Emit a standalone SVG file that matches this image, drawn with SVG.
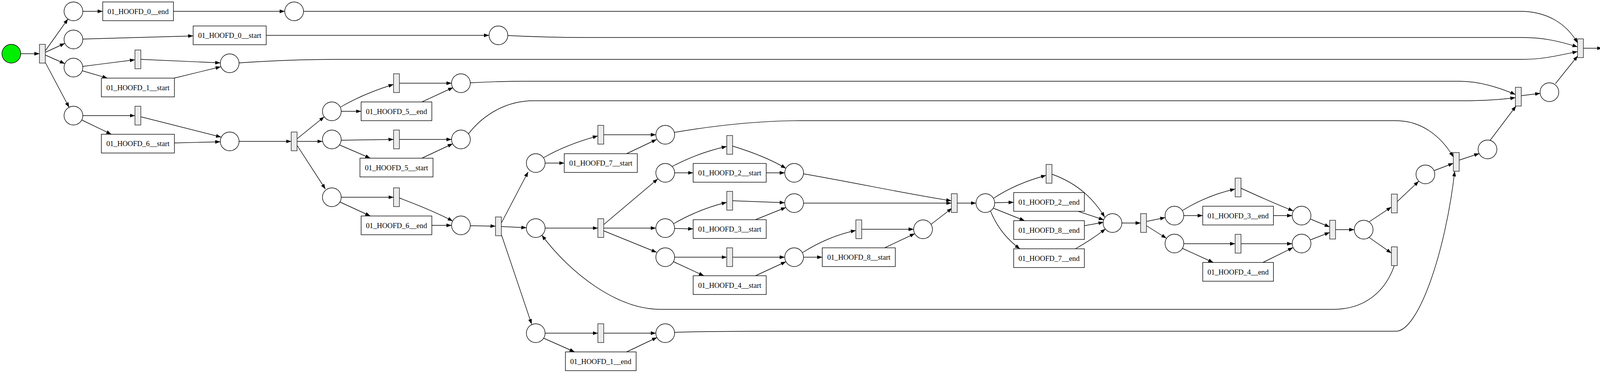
<svg xmlns="http://www.w3.org/2000/svg" width="4155" height="955" viewBox="0 0 4155 955">
<defs>
<style>
.place{fill:#ffffff;stroke:#000;stroke-width:1.4}
.trans{fill:#ececec;stroke:#222;stroke-width:1.4}
.box{fill:#ffffff;stroke:#000;stroke-width:1.4}
.lbl{font-family:"Liberation Serif","Times New Roman",serif;font-size:18.67px;fill:#000;text-anchor:middle}
.e{fill:none;stroke:#000;stroke-width:1.4;marker-end:url(#ah)}
</style>
<marker id="ah" markerWidth="14" markerHeight="10" refX="13" refY="4.75" orient="auto" markerUnits="userSpaceOnUse">
<path d="M0,0 L13,4.75 L0,9.5 z" fill="#000"/>
</marker>
</defs>
<rect width="4155" height="955" fill="#fff"/>
<g id="edges">
<path class="e" d="M53,137.5 L101,137.5"/>
<path class="e" d="M116,130 L174,48.5"/>
<path class="e" d="M116,134 L166,111"/>
<path class="e" d="M116,141 L166,163"/>
<path class="e" d="M116,160 L177,275"/>
<path class="e" d="M212,29 L263,29"/>
<path class="e" d="M444,29 L729,29"/>
<path class="e" d="M777,29 L3891,29 C3960,29 4010,60 4038.5,110"/>
<path class="e" d="M212,100 L494.5,92"/>
<path class="e" d="M681.5,90.5 L1252,90.5"/>
<path class="e" d="M1300,91 C1380,95 1420,96 1500,96 L3897,96 C3950,96 3990,105 4038.5,120"/>
<path class="e" d="M212,170 L345.5,153"/>
<path class="e" d="M210,181 L275,200"/>
<path class="e" d="M360.5,152 L564,161"/>
<path class="e" d="M446,200 L565,171"/>
<path class="e" d="M612,161 C700,155 780,152 860,152 L3897,152 C3950,152 3990,142 4038.5,132"/>
<path class="e" d="M3982,214 L4039,143"/>
<path class="e" d="M212,296 L345.5,296"/>
<path class="e" d="M209,307 L285,343.7"/>
<path class="e" d="M360.5,299 L566,351"/>
<path class="e" d="M446.5,366 L564,363"/>
<path class="e" d="M612,362 L745.5,362"/>
<path class="e" d="M761,355 L830,299"/>
<path class="e" d="M760.5,362 L825.5,362"/>
<path class="e" d="M761,373 L833,484"/>
<path class="e" d="M872,274 Q930,240 1007.5,216"/>
<path class="e" d="M873.5,285 L924.5,285"/>
<path class="e" d="M1022.5,213 L1156,213"/>
<path class="e" d="M1080,261 L1160,224"/>
<path class="e" d="M1204,212 C1260,209 1300,208 1350,208 L3736,208 C3790,208 3840,225 3879.5,242"/>
<path class="e" d="M873.5,359 L1007.5,357"/>
<path class="e" d="M869,371 L948,405"/>
<path class="e" d="M1022.5,357 L1156,357"/>
<path class="e" d="M1080,405 L1159,368"/>
<path class="e" d="M1199,343 C1240,290 1300,258 1365,258 L3740,258 C3800,258 3850,254 3879.5,250"/>
<path class="e" d="M873.5,505 L1007.5,505"/>
<path class="e" d="M870,517 L948,553"/>
<path class="e" d="M1022.5,507 Q1110,540 1159,566"/>
<path class="e" d="M1105.5,577 L1156,577"/>
<path class="e" d="M1204,578 L1268.5,579"/>
<path class="e" d="M1284,570 L1352,440"/>
<path class="e" d="M1283.5,580 L1347.5,583"/>
<path class="e" d="M1284,602 L1361,830"/>
<path class="e" d="M1391,404 Q1450,370 1530.5,348"/>
<path class="e" d="M1395.5,417.5 L1444.5,417.5"/>
<path class="e" d="M1545.5,345 L1679,345"/>
<path class="e" d="M1604,393.5 L1681,357"/>
<path class="e" d="M1726,339 C1850,318 1950,309 2050,309 L3574,309 C3640,309 3690,350 3720.5,402"/>
<path class="e" d="M1395.5,584 L1530.5,584"/>
<path class="e" d="M1545.5,575 L1684,458"/>
<path class="e" d="M1545.5,584 L1679,584"/>
<path class="e" d="M1545.5,591 L1681,646"/>
<path class="e" d="M1724,573 Q1790,535 1860.5,518"/>
<path class="e" d="M1727,585 L1774.5,586"/>
<path class="e" d="M1875.5,514 L2009,519"/>
<path class="e" d="M1934,562.5 L2012,531"/>
<path class="e" d="M1727,658.5 L1860.5,658.5"/>
<path class="e" d="M1724,670 L1802,706"/>
<path class="e" d="M1875.5,658.5 L2009,658.5"/>
<path class="e" d="M1934,706 L2012,670"/>
<path class="e" d="M1395.5,853 L1530.5,853"/>
<path class="e" d="M1392,866 L1471,901"/>
<path class="e" d="M1545.5,853 L1679,853"/>
<path class="e" d="M1604,901 L1682,864"/>
<path class="e" d="M1727,851 C1800,848 1900,848 2000,848 L3574,848 C3630,848 3700,650 3724,438.5"/>
<path class="e" d="M1721,426 Q1790,390 1860.5,375"/>
<path class="e" d="M1727,442.5 L1774.5,442.5"/>
<path class="e" d="M1875.5,374 Q1960,400 2012,431"/>
<path class="e" d="M1961.5,442.5 L2009,442.5"/>
<path class="e" d="M2057,445 C2200,470 2340,500 2435.5,514"/>
<path class="e" d="M2057,520 L2435.5,520"/>
<path class="e" d="M2054,647 Q2120,605 2191,590"/>
<path class="e" d="M2057,658.5 L2105,658.5"/>
<path class="e" d="M2206,587 L2339,587"/>
<path class="e" d="M2265,634.5 L2342,598"/>
<path class="e" d="M2384,574 L2437,533"/>
<path class="e" d="M2450.5,520 L2498.5,520"/>
<path class="e" d="M2543,508 Q2600,470 2678,449"/>
<path class="e" d="M2546.5,519 L2595,518"/>
<path class="e" d="M2543,533 L2623,565"/>
<path class="e" d="M2536,541 Q2560,600 2611,637"/>
<path class="e" d="M2693,446 C2760,470 2800,510 2828,556"/>
<path class="e" d="M2760,541 L2826,563"/>
<path class="e" d="M2776,578 L2825,569"/>
<path class="e" d="M2753,637 Q2800,610 2830,586"/>
<path class="e" d="M2872,571 L2920,571"/>
<path class="e" d="M2935,567 L2983,557"/>
<path class="e" d="M2935,578 L2986,610"/>
<path class="e" d="M3027,539 Q3090,500 3162,484"/>
<path class="e" d="M3030.5,552 L3079,552"/>
<path class="e" d="M3177,482 Q3260,520 3311,540"/>
<path class="e" d="M3260,552 L3308,552"/>
<path class="e" d="M3030.5,624 L3162,624"/>
<path class="e" d="M3027,636 L3106,672"/>
<path class="e" d="M3177,624 L3308,624"/>
<path class="e" d="M3233,672 L3310,634"/>
<path class="e" d="M3355,561 L3404,581"/>
<path class="e" d="M3355,614 L3404,595"/>
<path class="e" d="M3419,588 L3467,588"/>
<path class="e" d="M3505,568 L3562,530"/>
<path class="e" d="M3505,608 L3562,648"/>
<path class="e" d="M3577,516 L3632,464"/>
<path class="e" d="M3569.5,680 C3545,750 3490,792 3414,792 L1690,792 C1580,792 1460,700 1387,602"/>
<path class="e" d="M3671,437 L3720.5,418"/>
<path class="e" d="M3735.5,410 L3787,393"/>
<path class="e" d="M3815,359 L3881,271.5"/>
<path class="e" d="M3894.5,245 L3943,239"/>
<path class="e" d="M4053.5,123.5 L4101.5,123.5"/>
</g>
<g id="source"><circle cx="29" cy="137.5" r="24" fill="#00ee00" stroke="#000" stroke-width="1.4"/></g>
<g id="sink"><circle cx="4125.5" cy="123.5" r="24" fill="#ff0000" stroke="#000" stroke-width="1.4"/></g>
<g id="p_a"><circle class="place" cx="188" cy="29" r="24"/></g>
<g id="p_b"><circle class="place" cx="188" cy="101" r="24"/></g>
<g id="p_c"><circle class="place" cx="188" cy="173" r="24"/></g>
<g id="p_d"><circle class="place" cx="188" cy="296" r="24"/></g>
<g id="p_e"><circle class="place" cx="753" cy="29" r="24"/></g>
<g id="p_f"><circle class="place" cx="1276" cy="90.5" r="24"/></g>
<g id="p_g"><circle class="place" cx="588" cy="162" r="24"/></g>
<g id="p_h"><circle class="place" cx="588" cy="362" r="24"/></g>
<g id="p_i"><circle class="place" cx="849.5" cy="285" r="24"/></g>
<g id="p_j"><circle class="place" cx="849.5" cy="357" r="24"/></g>
<g id="p_k"><circle class="place" cx="849.5" cy="505" r="24"/></g>
<g id="p_l"><circle class="place" cx="1180" cy="213" r="24"/></g>
<g id="p_m"><circle class="place" cx="1180" cy="357" r="24"/></g>
<g id="p_n"><circle class="place" cx="1180" cy="577" r="24"/></g>
<g id="p_o"><circle class="place" cx="1371.5" cy="417.5" r="24"/></g>
<g id="p_p"><circle class="place" cx="1371.5" cy="584" r="24"/></g>
<g id="p_q"><circle class="place" cx="1371.5" cy="853" r="24"/></g>
<g id="p_r"><circle class="place" cx="1703" cy="345" r="24"/></g>
<g id="p_s"><circle class="place" cx="1703" cy="442.5" r="24"/></g>
<g id="p_t"><circle class="place" cx="1703" cy="584" r="24"/></g>
<g id="p_u"><circle class="place" cx="1703" cy="658.5" r="24"/></g>
<g id="p_v"><circle class="place" cx="1703" cy="853" r="24"/></g>
<g id="p_w"><circle class="place" cx="2033" cy="442.5" r="24"/></g>
<g id="p_x"><circle class="place" cx="2033" cy="520" r="24"/></g>
<g id="p_y"><circle class="place" cx="2033" cy="658.5" r="24"/></g>
<g id="p_z"><circle class="place" cx="2363" cy="587" r="24"/></g>
<g id="p_aa"><circle class="place" cx="2522.5" cy="520" r="24"/></g>
<g id="p_ab"><circle class="place" cx="2848" cy="571" r="24"/></g>
<g id="p_ac"><circle class="place" cx="3006.5" cy="552" r="24"/></g>
<g id="p_ad"><circle class="place" cx="3006.5" cy="623.5" r="24"/></g>
<g id="p_ae"><circle class="place" cx="3332" cy="552" r="24"/></g>
<g id="p_af"><circle class="place" cx="3332" cy="623.5" r="24"/></g>
<g id="p_ag"><circle class="place" cx="3491" cy="588" r="24"/></g>
<g id="p_ah"><circle class="place" cx="3649" cy="446.5" r="24"/></g>
<g id="p_ai"><circle class="place" cx="3808" cy="382.5" r="24"/></g>
<g id="p_aj"><circle class="place" cx="3966.5" cy="236" r="24"/></g>
<g id="t0"><rect class="trans" x="101" y="113.5" width="15" height="48"/></g>
<g id="t1"><rect class="trans" x="345.5" y="128" width="15" height="48"/></g>
<g id="t2"><rect class="trans" x="345.5" y="272" width="15" height="48"/></g>
<g id="t3"><rect class="trans" x="745.5" y="338" width="15" height="48"/></g>
<g id="t4"><rect class="trans" x="1007.5" y="189" width="15" height="48"/></g>
<g id="t5"><rect class="trans" x="1007.5" y="333" width="15" height="48"/></g>
<g id="t6"><rect class="trans" x="1007.5" y="481" width="15" height="48"/></g>
<g id="t7"><rect class="trans" x="1268.5" y="555.5" width="15" height="48"/></g>
<g id="t8"><rect class="trans" x="1530.5" y="321" width="15" height="48"/></g>
<g id="t9"><rect class="trans" x="1530.5" y="560" width="15" height="48"/></g>
<g id="t10"><rect class="trans" x="1530.5" y="829" width="15" height="48"/></g>
<g id="t11"><rect class="trans" x="1860.5" y="347" width="15" height="48"/></g>
<g id="t12"><rect class="trans" x="1860.5" y="490" width="15" height="48"/></g>
<g id="t13"><rect class="trans" x="1860.5" y="634.5" width="15" height="48"/></g>
<g id="t14"><rect class="trans" x="2191" y="563" width="15" height="48"/></g>
<g id="t15"><rect class="trans" x="2435.5" y="496" width="15" height="48"/></g>
<g id="t16"><rect class="trans" x="2678" y="421" width="15" height="48"/></g>
<g id="t17"><rect class="trans" x="2920" y="547" width="15" height="48"/></g>
<g id="t18"><rect class="trans" x="3162" y="456" width="15" height="48"/></g>
<g id="t19"><rect class="trans" x="3162" y="600" width="15" height="48"/></g>
<g id="t20"><rect class="trans" x="3404" y="564" width="15" height="48"/></g>
<g id="t21"><rect class="trans" x="3562" y="497" width="15" height="48"/></g>
<g id="t22"><rect class="trans" x="3562" y="632" width="15" height="48"/></g>
<g id="t23"><rect class="trans" x="3720.5" y="390.5" width="15" height="48"/></g>
<g id="t24"><rect class="trans" x="3879.5" y="223.5" width="15" height="48"/></g>
<g id="t25"><rect class="trans" x="4038.5" y="99.5" width="15" height="48"/></g>
<g id="b_0end"><rect class="box" x="263" y="5" width="181" height="48"/><text class="lbl" x="353.5" y="35.5">01_HOOFD_0__end</text></g>
<g id="b_0start"><rect class="box" x="494.5" y="66.5" width="187" height="48"/><text class="lbl" x="588" y="97">01_HOOFD_0__start</text></g>
<g id="b_1start"><rect class="box" x="259.5" y="200" width="187" height="48"/><text class="lbl" x="353" y="230.5">01_HOOFD_1__start</text></g>
<g id="b_6start"><rect class="box" x="259.5" y="343.7" width="187" height="48"/><text class="lbl" x="353" y="374.2">01_HOOFD_6__start</text></g>
<g id="b_5end"><rect class="box" x="924.5" y="261" width="181" height="48"/><text class="lbl" x="1015" y="291.5">01_HOOFD_5__end</text></g>
<g id="b_5start"><rect class="box" x="921.5" y="405" width="187" height="48"/><text class="lbl" x="1015" y="435.5">01_HOOFD_5__start</text></g>
<g id="b_6end"><rect class="box" x="924.5" y="553" width="181" height="48"/><text class="lbl" x="1015" y="583.5">01_HOOFD_6__end</text></g>
<g id="b_7start"><rect class="box" x="1444.5" y="393.5" width="187" height="48"/><text class="lbl" x="1538" y="424">01_HOOFD_7__start</text></g>
<g id="b_1end"><rect class="box" x="1447.5" y="901" width="181" height="48"/><text class="lbl" x="1538" y="931.5">01_HOOFD_1__end</text></g>
<g id="b_2start"><rect class="box" x="1774.5" y="418.5" width="187" height="48"/><text class="lbl" x="1868" y="449">01_HOOFD_2__start</text></g>
<g id="b_3start"><rect class="box" x="1774.5" y="562.5" width="187" height="48"/><text class="lbl" x="1868" y="593">01_HOOFD_3__start</text></g>
<g id="b_4start"><rect class="box" x="1774.5" y="706" width="187" height="48"/><text class="lbl" x="1868" y="736.5">01_HOOFD_4__start</text></g>
<g id="b_8start"><rect class="box" x="2105" y="634.5" width="187" height="48"/><text class="lbl" x="2198.5" y="665">01_HOOFD_8__start</text></g>
<g id="b_2end"><rect class="box" x="2595" y="493" width="181" height="48"/><text class="lbl" x="2685.5" y="523.5">01_HOOFD_2__end</text></g>
<g id="b_8end"><rect class="box" x="2595" y="565" width="181" height="48"/><text class="lbl" x="2685.5" y="595.5">01_HOOFD_8__end</text></g>
<g id="b_7end"><rect class="box" x="2595" y="637" width="181" height="48"/><text class="lbl" x="2685.5" y="667.5">01_HOOFD_7__end</text></g>
<g id="b_3end"><rect class="box" x="3079" y="528" width="181" height="48"/><text class="lbl" x="3169.5" y="558.5">01_HOOFD_3__end</text></g>
<g id="b_4end"><rect class="box" x="3079" y="672" width="181" height="48"/><text class="lbl" x="3169.5" y="702.5">01_HOOFD_4__end</text></g>
</svg>
